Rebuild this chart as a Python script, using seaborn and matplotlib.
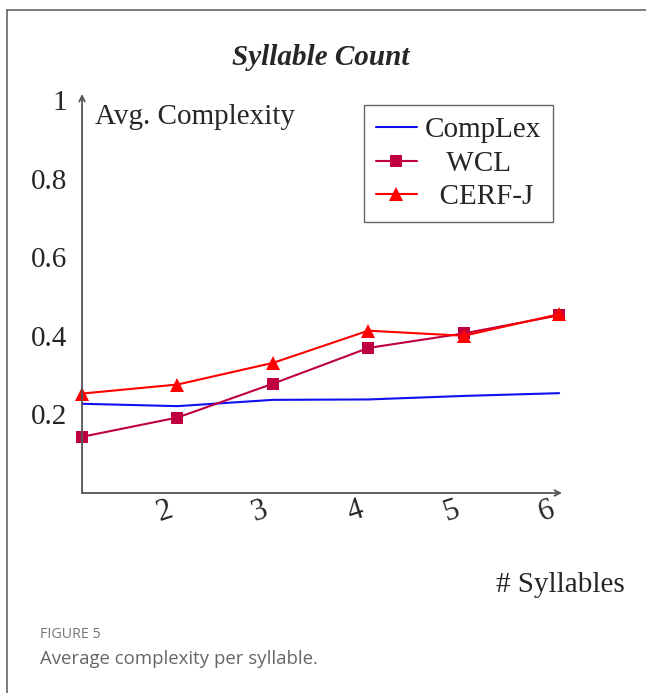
import numpy as np
import pandas as pd
import matplotlib
matplotlib.use("Agg")
import matplotlib.pyplot as plt
import matplotlib.transforms as mtrans
from matplotlib.lines import Line2D
import seaborn as sns

# ---- data ----
syllables = [1, 2, 3, 4, 5, 6]
complex_vals = [0.227, 0.221, 0.237, 0.238, 0.247, 0.254]
wcl_vals = [0.143, 0.192, 0.278, 0.369, 0.406, 0.452]
cerfj_vals = [0.253, 0.276, 0.331, 0.413, 0.400, 0.455]
series_names = ["CompLex", "WCL", "CERF-J"]
y_ticks = [0.2, 0.4, 0.6, 0.8, 1.0]
y_ticklabels = ["0.2", "0.4", "0.6", "0.8", "1"]
x_ticks = [2, 3, 4, 5, 6]
x_ticklabels = ["2", "3", "4", "5", "6"]

df = pd.DataFrame({
    "syll": syllables * 3,
    "val": complex_vals + wcl_vals + cerfj_vals,
    "model": [series_names[0]] * 6 + [series_names[1]] * 6 + [series_names[2]] * 6,
})

sns.set_style("white")
plt.rcParams["font.family"] = ["Liberation Serif", "DejaVu Serif"]

fig = plt.figure(figsize=(6.46, 6.93), dpi=100)
ax = fig.add_axes([0.127, 0.2886, 0.743, 0.570])

colors = {"CompLex": "#1010ee", "WCL": "#bf0040", "CERF-J": "#ff0000"}
markers = {"CompLex": None, "WCL": "s", "CERF-J": "^"}
msizes = {"CompLex": 0, "WCL": 9, "CERF-J": 9.5}
for name in series_names:
    sub = df[df["model"] == name]
    sns.lineplot(data=sub, x="syll", y="val", ax=ax, color=colors[name],
                 marker=markers[name], markersize=msizes[name], markeredgewidth=0,
                 linewidth=1.5, label=name, clip_on=False, zorder=3)

ax.set_xlim(1, 6.03)
ax.set_ylim(0, 1.005)
ax.set_xlabel("")
ax.set_ylabel("")
for s in ax.spines.values():
    s.set_visible(False)

# axes with arrows
ax.annotate("", xy=(1.0, 0), xytext=(0, 0), xycoords="axes fraction",
            arrowprops=dict(arrowstyle="->", color="#555555", lw=1.3,
                            shrinkA=0, shrinkB=0, mutation_scale=10))
ax.annotate("", xy=(0, 1.01), xytext=(0, 0), xycoords="axes fraction",
            arrowprops=dict(arrowstyle="->", color="#555555", lw=1.3,
                            shrinkA=0, shrinkB=0, mutation_scale=10))

ax.set_yticks(y_ticks)
ax.set_yticklabels(y_ticklabels, fontsize=21)
ax.set_xticks(x_ticks)
ax.set_xticklabels(x_ticklabels, fontsize=22)
ax.tick_params(axis="y", direction="inout", length=7, width=0.8, color="#cccccc", pad=7)
ax.tick_params(axis="x", direction="in", length=6, width=0.8, color="#cccccc", pad=2)
offset = mtrans.ScaledTranslation(-13 / 100, 0, fig.dpi_scale_trans)
for lbl in ax.get_xticklabels():
    lbl.set_rotation(18)
    lbl.set_transform(lbl.get_transform() + offset)

ax.text(0.027, 0.953, "Avg. Complexity", transform=ax.transAxes, fontsize=21,
        ha="left", va="center")
fig.text(0.868, 0.156, "# Syllables", fontsize=21, ha="center", va="center")
fig.text(0.497, 0.917, "Syllable Count", fontsize=21, fontweight="bold",
         fontstyle="italic", ha="center", va="center")

legend_labels = ["CompLex", "   WCL", "  CERF-J"]
handles, _ = ax.get_legend_handles_labels()
leg = ax.legend(handles, legend_labels, loc="upper left", bbox_to_anchor=(0.5635, 0.8485),
                bbox_transform=fig.transFigure, fontsize=21, frameon=True,
                fancybox=False, edgecolor="#666666", framealpha=1,
                handlelength=1.4, handletextpad=0.28, labelspacing=0.25,
                borderpad=0.4, borderaxespad=0)
leg.get_frame().set_linewidth(1.0)

# outer frame (left and top)
fig.add_artist(Line2D([7 / 646, 7 / 646], [0, 1 - 10 / 693], color="#666666", lw=1.2))
fig.add_artist(Line2D([7 / 646, 1], [1 - 10 / 693, 1 - 10 / 693], color="#666666", lw=1.2))

fig.text(40 / 646, 1 - 634 / 693, "FIGURE 5", fontsize=10.3, color="#777777",
         family=["Open Sans", "DejaVu Sans"], ha="left", va="center")
fig.text(40 / 646, 1 - 659 / 693, "Average complexity per syllable.", fontsize=13.4,
         color="#666666", family=["Open Sans", "DejaVu Sans"], ha="left", va="center")

fig.savefig("out.png", dpi=100)
